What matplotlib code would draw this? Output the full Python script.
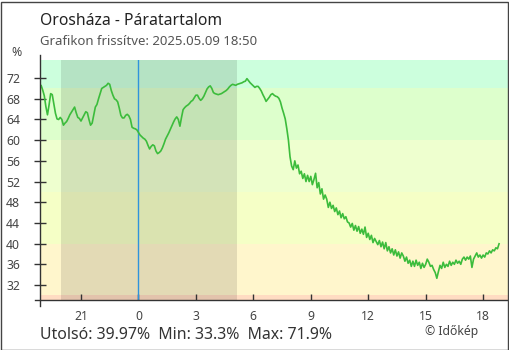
import numpy as np
import matplotlib
matplotlib.use("Agg")
import matplotlib.pyplot as plt
from matplotlib.patches import Rectangle
from matplotlib.lines import Line2D

plt.rcParams['font.family'] = ['Noto Sans', 'DejaVu Sans']

# ---- data (relative humidity, %, 5-minute readings from 18:50 previous day to 18:50) ----
start_hour = -5.0 - 10.0 / 60.0   # 18:50 on previous day, hours relative to midnight
step_hours = 5.0 / 60.0
humidity = [
    70.3, 70.6, 69.7, 68.6, 66.5, 64.9, 66.8, 69.0, 68.8, 67.0, 65.2, 64.1,
    64.0, 64.4, 64.0, 62.9, 63.3, 63.6, 64.2, 64.9, 65.4, 65.9, 66.4, 65.3,
    64.4, 64.2, 63.7, 64.3, 64.9, 65.5, 65.3, 64.0, 62.9, 63.3, 64.8, 66.4,
    66.9, 68.0, 69.0, 70.0, 70.2, 70.4, 70.6, 71.0, 70.8, 69.6, 68.7, 68.0,
    67.8, 67.4, 66.2, 64.8, 64.3, 64.3, 64.8, 65.0, 64.7, 64.0, 62.5, 62.3,
    62.2, 62.0, 61.5, 61.0, 60.7, 60.4, 60.2, 59.8, 59.0, 58.3, 58.8, 59.1,
    58.9, 57.9, 57.4, 57.6, 57.9, 58.5, 59.3, 60.2, 60.8, 61.4, 62.1, 62.8,
    63.5, 64.1, 64.5, 64.0, 62.7, 64.4, 65.9, 66.3, 66.6, 66.8, 67.1, 67.5,
    67.7, 68.2, 68.7, 68.7, 68.1, 67.7, 68.0, 68.5, 69.2, 69.9, 70.3, 70.5,
    70.0, 69.2, 69.0, 68.9, 68.8, 68.9, 69.0, 69.2, 69.4, 69.6, 69.9, 70.3,
    70.6, 70.8, 70.7, 70.6, 70.8, 70.9, 71.0, 71.1, 71.3, 71.4, 71.9, 71.5,
    71.1, 70.8, 70.5, 70.2, 70.4, 70.4, 70.0, 69.5, 68.8, 68.2, 67.5, 67.9,
    68.3, 68.8, 69.0, 68.7, 68.5, 68.4, 68.1, 67.4, 66.2, 65.2, 64.1, 62.2,
    60.0, 56.8, 55.0, 54.3, 56.0, 54.6, 55.2, 53.5, 54.0, 52.6, 53.5, 52.0,
    53.2, 52.0, 53.0, 51.4, 52.4, 53.6, 50.8, 51.8, 49.6, 50.6, 48.6, 49.4,
    48.6, 47.0, 48.0, 46.8, 47.4, 46.2, 46.9, 45.6, 46.3, 45.0, 45.8, 44.8,
    45.2, 44.2, 44.0, 43.2, 43.9, 42.6, 43.5, 42.4, 43.3, 42.0, 42.8, 41.8,
    43.2, 41.2, 42.0, 40.8, 41.6, 40.2, 41.0, 40.4, 39.8, 40.6, 39.4, 40.3,
    39.0, 40.2, 38.6, 39.4, 38.2, 39.0, 37.8, 38.8, 37.6, 38.4, 37.2, 38.2,
    37.6, 36.6, 37.4, 36.2, 36.8, 35.6, 36.6, 35.6, 36.8, 35.8, 36.4, 35.2,
    36.2, 35.4, 36.0, 37.0, 36.4, 35.6, 35.8, 35.0, 34.4, 33.3, 34.6, 35.8,
    35.2, 36.4, 35.4, 36.0, 35.6, 36.6, 35.8, 36.4, 36.0, 36.8, 36.2, 36.6,
    36.0, 37.0, 37.4, 36.8, 37.4, 37.0, 37.6, 35.4, 37.0, 37.6, 38.2, 37.4,
    37.8, 37.2, 37.8, 37.4, 38.2, 38.0, 38.6, 38.2, 38.8, 38.6, 39.2, 39.0,
    39.97,
]
hours = start_hour + step_hours * np.arange(len(humidity))

tick_hours = [-3, 0, 3, 6, 9, 12, 15, 18]
tick_labels = ["21", "0", "3", "6", "9", "12", "15", "18"]
y_ticks = [32, 36, 40, 44, 48, 52, 56, 60, 64, 68, 72]

band_edges = [0, 30, 40, 50, 60, 70, 100]
band_colors = ["#ffdcc2", "#fff6cc", "#f5ffc6", "#eeffcf", "#ddffcc", "#ccffdd"]

night_start, night_end = -4.03, 5.15

title = "Orosháza - Páratartalom"
subtitle = "Grafikon frissítve: 2025.05.09 18:50"
stats = "Utolsó: 39.97%  Min: 33.3%  Max: 71.9%"
credit = "© Időkép"

# ---- figure ----
W, H = 510, 350
fig = plt.figure(figsize=(W / 100, H / 100), dpi=100)
ax = fig.add_axes([40 / W, 50 / H, 468 / W, 240 / H])

for lo, hi, c in zip(band_edges[:-1], band_edges[1:], band_colors):
    ax.axhspan(lo, hi, color=c, lw=0, zorder=0)
ax.axvspan(night_start, night_end, color="#000000", alpha=0.11, lw=0, zorder=1)
ax.axvline(0, color="#2f93dc", lw=1.0, zorder=2)
ax.plot(hours, humidity, color="#3cbc3c", lw=1.2, zorder=3)

ax.set_xlim(-5.14, 19.3)
ax.set_ylim(29.1, 75.5)

for s in ["top", "right", "left", "bottom"]:
    ax.spines[s].set_visible(False)
# axis lines (slightly extended like the original)
ax.add_line(Line2D([0, 0], [-6 / 240, 1 + 5 / 240], transform=ax.transAxes,
                   color="#333333", lw=1.0, clip_on=False, zorder=5))
ax.add_line(Line2D([-5 / 468, 1], [0, 0], transform=ax.transAxes,
                   color="#333333", lw=1.0, clip_on=False, zorder=5))

ax.set_yticks(y_ticks)
ax.set_xticks(tick_hours)
ax.set_xticklabels(tick_labels)
ax.tick_params(axis="y", direction="inout", length=8.6, width=1.0, color="#333333",
               labelsize=8.8, labelcolor="#444444", pad=10)
ax.tick_params(axis="x", direction="in", length=4.5, width=1.0, color="#333333",
               labelsize=8.8, labelcolor="#444444", pad=7)

fig.text(40 / W, 1 - 25 / H, title, fontsize=11.3, color="#222222", va="baseline", ha="left")
fig.text(40 / W, 1 - 45 / H, subtitle, fontsize=9.5, color="#555555", va="baseline", ha="left")
fig.text(17 / W, 1 - 56 / H, "%", fontsize=8.8, color="#444444", va="baseline", ha="center")
fig.text(40 / W, 1 - 339 / H, stats, fontsize=11.4, color="#333333", va="baseline", ha="left")
fig.text(425 / W, 1 - 335 / H, credit, fontsize=8.8, color="#444444", va="baseline", ha="left")

fig.patches.append(Rectangle((0.5 / W, 0.5 / H), 1 - 2 / W, 1 - 2 / H, transform=fig.transFigure,
                             fill=False, edgecolor="#444444", lw=1.0))

fig.savefig("out.png", dpi=100)
